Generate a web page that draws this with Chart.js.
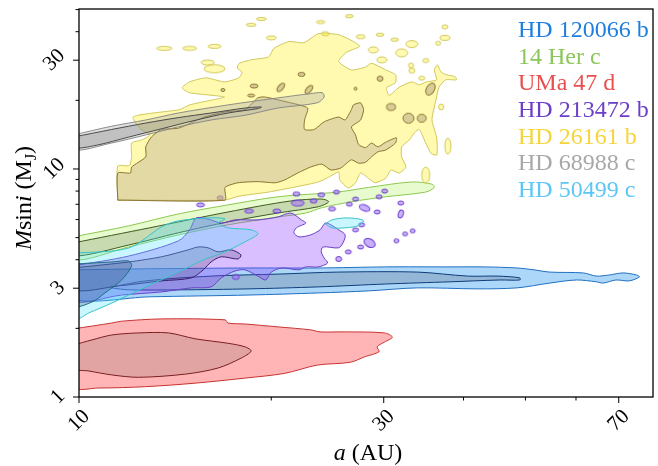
<!DOCTYPE html>
<html lang="en">
<head>
<meta charset="UTF-8">
<title>Msini vs a</title>
<script src="https://cdn.jsdelivr.net/npm/chart.js@4.4.1/dist/chart.umd.min.js"></script>
<style>
    body { margin: 0; background: #fff; }
    canvas { display: block; }
</style>
</head>
<body>
<canvas id="chart" width="658" height="466"></canvas>
<script>
// ---- data: contour outlines as [a (AU), Msini (MJ)] ----
const names = ['HD 120066 b', '14 Her c', 'UMa 47 d', 'HD 213472 b', 'HD 26161 b', 'HD 68988 c', 'HD 50499 c'];

const xMajor = [10, 30, 70];
const xMinor = [20, 40, 50, 60];
const yMajor = [1, 3, 10, 30];
const yMinor = [2, 4, 5, 6, 7, 8, 9, 20, 40, 50];

const blueOuter = [[9.8,3.61],[12.9,3.65],[18.46,3.68],[23.7,3.68],[30.2,3.72],[38.1,3.72],[43.1,3.72],[48.5,3.68],[51.6,3.61],[54.6,3.53],[61.6,3.50],[64.6,3.39],[67.7,3.43],[71.1,3.50],[74.6,3.43],[75.4,3.36],[72.7,3.23],[69.3,3.26],[66.2,3.16],[64.6,3.20],[60.1,3.26],[54.6,3.16],[48.5,3.01],[42.0,2.98],[33.9,3.01],[28.4,2.92],[23.7,2.86],[18.46,2.80],[12.9,2.75],[9.8,2.69]];
const blueInner = [[11.25,3.04],[12.72,3.23],[16.1,3.39],[20.55,3.46],[25.4,3.53],[33.9,3.53],[40.6,3.39],[45.3,3.39],[49.0,3.33],[49.0,3.26],[45.6,3.26],[38.1,3.20],[30.2,3.13],[23.7,3.04],[18.46,2.98],[14.36,2.95],[12.0,2.95],[11.25,3.01]];

const greenOuter = [[9.8,5.04],[11.96,5.63],[14.31,6.35],[17.12,6.96],[20.48,7.55],[25.4,7.92],[28.4,8.30],[33.2,8.77],[35.7,8.58],[36.0,8.30],[34.9,7.92],[30.2,7.55],[26.7,7.18],[23.95,6.75],[22.65,6.41],[20.48,6.16],[17.12,5.69],[14.31,5.14],[11.96,4.55],[9.8,3.99]];
const greenInner = [[9.8,4.74],[12.9,5.52],[17.12,6.48],[21.45,7.24],[24.0,7.38],[24.6,7.18],[23.7,6.83],[20.48,6.41],[17.12,5.86],[14.31,5.25],[11.96,4.64],[9.8,4.15]];

const redOuter = [[9.8,1.99],[11.25,2.11],[11.66,2.15],[13.46,2.20],[16.93,2.18],[17.12,2.11],[18.19,2.09],[20.5,2.03],[23.05,1.97],[23.85,1.93],[26.0,1.93],[30.07,1.91],[30.95,1.83],[30.07,1.74],[29.3,1.66],[29.5,1.58],[28.0,1.50],[26.6,1.42],[23.6,1.38],[21.0,1.27],[18.19,1.21],[15.2,1.15],[12.72,1.11],[10.74,1.095],[9.8,1.11]];
const redInner = [[9.8,1.69],[10.48,1.78],[11.25,1.87],[12.4,1.91],[13.81,1.91],[15.2,1.80],[17.12,1.72],[18.19,1.66],[18.6,1.59],[17.93,1.48],[16.51,1.34],[14.68,1.26],[12.4,1.22],[11.25,1.25],[10.37,1.30],[9.8,1.34]];

const purpleOuter = [[9.8,3.76],[11.96,4.15],[14.31,4.84],[14.9,5.41],[15.27,6.10],[16.1,5.98],[16.7,5.79],[17.55,5.98],[19.06,5.98],[20.48,6.16],[21.45,6.41],[22.3,5.98],[22.65,5.79],[21.9,5.52],[21.7,5.25],[22.1,5.04],[23.05,5.14],[23.85,5.41],[24.3,5.79],[24.8,5.69],[25.5,5.41],[26.1,5.14],[25.9,4.74],[25.5,4.51],[24.1,4.55],[23.95,4.33],[24.2,4.07],[24.5,3.87],[23.7,3.72],[22.65,3.72],[22.1,3.61],[20.8,3.68],[20.0,3.53],[19.6,3.26],[19.06,3.39],[18.19,3.61],[17.55,3.57],[16.7,3.33],[16.1,3.04],[15.0,3.01],[13.46,2.89],[11.66,2.80],[9.8,2.64]];
const purpleInner = [[9.8,3.68],[11.96,3.91],[13.46,4.12],[14.83,4.42],[15.37,4.55],[15.93,4.51],[16.51,4.33],[17.3,4.42],[17.93,4.20],[17.74,4.03],[16.7,4.12],[16.1,3.91],[15.65,3.61],[15.0,3.33],[13.46,3.23],[11.54,3.07],[9.8,2.95]];
const purpleDots = [[15.5,6.96],[16.63,7.47],[18.46,6.54],[20.4,6.54],[21.9,7.77],[22.0,7.09],[23.3,7.24],[23.95,7.70],[24.9,6.68],[25.3,7.92],[26.5,7.01],[27.1,7.38],[28.0,6.75],[29.3,6.48],[29.5,7.55],[30.1,8.0],[31.9,7.09],[31.9,6.35],[27.1,5.41],[27.7,5.69],[33.3,5.35],[32.4,5.19],[31.4,4.84],[28.5,4.74],[27.6,4.55],[26.4,4.33],[25.5,4.03],[17.6,3.36]];

const yellowOuter = [[11.5,7.3],[11.5,10.3],[11.99,10.35],[12.09,11.3],[12.09,13.0],[12.53,13.4],[12.9,14.1],[12.45,15.1],[12.14,16.8],[12.36,17.2],[13.06,17.6],[14.36,18.2],[14.9,19.1],[16.2,20.1],[16.9,20.7],[14.9,21.6],[14.5,22.7],[14.9,24.1],[15.8,25.1],[16.9,24.1],[17.8,25.1],[18.0,26.6],[17.7,27.7],[17.8,29.0],[18.6,30.1],[19.8,31.0],[20.2,33.8],[21.3,36.2],[22.5,35.8],[23.7,39.2],[25.5,38.8],[26.9,36.2],[27.5,34.5],[26.2,32.4],[25.5,29.6],[26.7,27.2],[28.1,28.0],[28.7,29.1],[30.2,27.2],[31.3,25.9],[31.3,23.9],[30.3,22.7],[30.6,21.0],[31.7,22.8],[33.2,24.1],[34.1,23.4],[35.0,24.1],[36.3,24.6],[36.0,27.2],[36.4,28.6],[36.9,26.6],[37.6,25.9],[38.8,25.4],[39.0,24.6],[37.5,24.6],[36.6,22.8],[36.3,20.7],[36.0,18.7],[35.7,16.4],[36.3,13.8],[36.4,12.4],[36.3,11.5],[35.6,11.7],[34.9,13.0],[34.1,14.9],[33.5,14.4],[32.9,13.4],[32.0,12.5],[32.0,11.3],[32.5,10.2],[31.7,9.6],[30.8,9.9],[30.2,9.1],[29.1,8.7],[28.4,9.1],[27.6,9.6],[27.1,8.7],[26.4,8.25],[25.6,8.96],[25.5,9.7],[24.6,9.2],[23.7,8.77],[22.1,8.4],[19.8,7.92],[17.8,7.6],[16.9,7.3]];
const yellowInner = [[11.5,7.3],[11.5,9.6],[12.04,9.6],[12.09,10.2],[12.72,11.3],[12.72,12.5],[12.98,13.8],[13.46,14.9],[14.31,15.1],[15.65,16.8],[16.93,17.8],[18.19,18.2],[19.06,20.5],[19.5,20.7],[21.45,19.5],[22.8,18.5],[22.55,16.4],[22.55,14.9],[23.35,14.9],[24.2,16.1],[25.5,16.9],[26.1,16.4],[26.7,18.2],[26.9,19.1],[27.6,19.5],[27.9,18.2],[27.6,16.4],[26.7,15.3],[27.1,14.1],[27.4,12.8],[28.1,12.4],[28.7,13.0],[29.4,12.5],[30.2,13.1],[31.4,13.7],[31.3,13.0],[30.2,12.1],[29.4,11.9],[28.7,11.3],[28.1,10.7],[27.4,10.6],[26.7,10.97],[25.7,10.1],[24.8,9.9],[24.0,10.5],[23.05,10.2],[22.0,9.6],[21.0,8.96],[20.3,8.7],[19.06,8.8],[17.74,8.7],[16.93,8.3],[16.93,7.3]];
const yellowIslands = [[13.6,33.8],[14.9,33.8],[16.3,34.5],[15.9,29.3],[16.3,27.5],[18.6,42.9],[19.3,45.5],[20.0,37.6],[23.9,44.1],[24.3,39.2],[26.5,46.8],[27.6,38.0],[29.6,38.8],[31.2,36.9],[33.2,35.3],[37.4,42.0],[37.4,37.6],[36.5,35.6],[28.9,33.3],[32.0,32.3],[29.8,30.1],[34.9,29.9],[33.1,28.4],[33.2,27.0],[34.4,25.0],[36.9,18.7],[37.8,12.6],[34.9,9.4]];
const tanIslands = [[16.8,22.2],[18.8,23.1],[18.6,21.0],[20.7,22.8],[22.9,22.3],[22.3,26.0],[27.1,22.5],[29.6,24.9],[30.8,18.7],[32.8,16.7],[34.4,16.7],[35.5,22.4]];

const grayOuter = [[9.8,14.1],[11.25,15.4],[12.72,16.4],[14.31,17.6],[17.12,19.1],[20.48,20.5],[23.05,21.4],[24.05,21.6],[24.2,20.7],[23.6,19.5],[20.48,18.5],[18.19,17.2],[16.1,16.4],[14.31,15.3],[12.72,14.1],[11.25,13.0],[9.8,12.1]];
const grayInner = [[9.8,13.8],[11.25,14.9],[12.72,15.9],[14.31,16.8],[16.1,17.6],[18.19,18.5],[19.3,18.7],[19.06,18.4],[17.12,17.6],[15.27,16.4],[13.46,15.0],[11.96,13.8],[10.64,12.7],[9.8,12.4]];

const cyanOuter = [[9.8,4.27],[11.96,4.50],[13.46,5.57],[14.31,5.92],[16.1,6.11],[16.93,6.04],[16.51,5.79],[17.12,5.52],[18.6,5.41],[19.06,5.19],[18.19,4.79],[16.93,4.33],[15.65,3.99],[14.31,3.53],[12.72,3.04],[11.25,2.58],[10.37,2.34],[9.8,2.18]];
const cyanIsland = [[24.3,5.75],[24.9,5.98],[26.1,6.10],[27.4,6.04],[27.9,5.92],[27.4,5.64],[26.1,5.52],[24.9,5.52]];
const cyanInner = [[9.8,3.83],[11.25,3.91],[11.96,3.95],[12.09,3.76],[11.66,3.26],[10.98,2.86],[10.48,2.61],[9.8,2.51]];

// ---- styles ----
const nameColors = ['#1f7fe0', '#8cc65a', '#e8504f', '#6b3fc9', '#f5d43c', '#a8a8a8', '#5cc6f6'];
const serif = '"Liberation Serif", "DejaVu Serif", serif';

// island sizes in pixels: [w, h, rotation]
const purpleDotShape = [[8,4,0],[6,4,0],[9,4,0],[8,4,0],[7,4,0],[13,6,0],[7,4,0],[7,4,0],[7,4,0],[6,4,0],[6,4,0],[6,4,0],[11,6,20],[6,4,0],[6,4,0],[6,4,0],[6,4,0],[5,8,20],[6,4,0],[6,4,0],[5,4,0],[5,4,0],[5,4,0],[12,8,30],[6,4,0],[6,4,0],[6,5,0],[7,5,0]];
const yellowIslandShape = [[15,4,0],[14,4,0],[13,4,0],[13,5,0],[21,8,0],[10,3,0],[10,3,0],[10,4,0],[9,3,0],[8,4,0],[8,3,0],[9,4,0],[8,3,0],[8,3,0],[12,7,0],[6,4,0],[10,5,0],[5,4,0],[10,6,0],[12,8,0],[10,6,0],[6,4,0],[5,5,0],[6,5,0],[6,4,0],[5,6,0],[6,16,0],[8,16,0]];
const tanIslandShape = [[4,3,0],[8,4,0],[7,3,0],[5,10,40],[5,10,40],[7,4,0],[3,3,0],[6,5,0],[9,7,0],[11,10,0],[9,8,0],[8,13,30]];

function ellipseImg(w, h, rot, fill, stroke) {
    const s = Math.ceil(Math.max(w, h)) + 4;
    const c = document.createElement('canvas');
    c.width = s; c.height = s;
    const g = c.getContext('2d');
    g.translate(s / 2, s / 2);
    g.rotate(rot * Math.PI / 180);
    g.beginPath();
    g.ellipse(0, 0, w / 2, h / 2, 0, 0, Math.PI * 2);
    g.fillStyle = fill; g.fill();
    g.lineWidth = 1; g.strokeStyle = stroke; g.stroke();
    return c;
}

function shape(pts, fill, stroke, tension) {
    const data = pts.map(p => ({x: p[0], y: p[1]}));
    data.push({x: pts[0][0], y: pts[0][1]});
    return {
        data: data, showLine: true, fill: 'shape',
        backgroundColor: fill, borderColor: stroke, borderWidth: 1,
        pointRadius: 0, tension: tension === undefined ? 0.3 : tension
    };
}

function islands(pts, dims, fill, stroke) {
    return {
        data: pts.map(p => ({x: p[0], y: p[1]})),
        showLine: false, pointRadius: 3,
        pointStyle: dims.map(d => ellipseImg(d[0], d[1], d[2], fill, stroke))
    };
}

// bottom first
const layers = [
    shape(blueOuter, 'rgba(40,150,240,0.38)', '#1f6fc0'),
    shape(blueInner, 'rgba(90,100,130,0.28)', '#0d3d7a'),
    shape(greenOuter, 'rgba(170,240,80,0.28)', '#8cc850'),
    shape(greenInner, 'rgba(90,100,70,0.22)', '#3d5a1f'),
    shape(redOuter, 'rgba(255,60,60,0.38)', '#c83232'),
    shape(redInner, 'rgba(110,90,90,0.2)', '#7a1f1f'),
    shape(purpleOuter, 'rgba(140,60,255,0.33)', '#6a3fc8'),
    shape(purpleInner, 'rgba(60,40,90,0.22)', '#3a2070'),
    islands(purpleDots, purpleDotShape, 'rgba(160,110,255,0.55)', '#6a3fc8'),
    shape(yellowOuter, 'rgba(255,245,80,0.45)', '#cfc75a', 0.2),
    islands(yellowIslands, yellowIslandShape, 'rgba(255,245,80,0.45)', '#cfc75a'),
    shape(yellowInner, 'rgba(140,120,130,0.25)', '#8a7330', 0.2),
    islands(tanIslands, tanIslandShape, 'rgba(200,185,140,0.7)', '#8a7330'),
    shape(grayOuter, 'rgba(170,170,170,0.35)', 'rgba(130,130,130,0.9)'),
    shape(grayInner, 'rgba(120,120,120,0.3)', '#4a4a4a'),
    shape(cyanOuter, 'rgba(80,230,255,0.3)', '#35c4c4'),
    shape(cyanIsland, 'rgba(80,230,255,0.3)', '#35c4c4'),
    shape(cyanInner, 'rgba(30,60,110,0.25)', '#1e6e80')
];
layers.forEach((d, i) => { d.order = layers.length - i; d.clip = 0; });

// frame, ticks, labels, titles and the text legend
const overlay = {
    id: 'overlay',
    afterDraw(chart) {
        const ctx = chart.ctx, ca = chart.chartArea;
        const xs = chart.scales.x, ys = chart.scales.y;
        ctx.save();
        ctx.strokeStyle = '#000';
        ctx.lineWidth = 1.3;
        ctx.strokeRect(ca.left, ca.top, ca.right - ca.left, ca.bottom - ca.top);

        ctx.lineWidth = 1;
        ctx.beginPath();
        xMajor.concat(xMinor).forEach(v => {
            const p = xs.getPixelForValue(v);
            const len = xMajor.includes(v) ? 6 : 3.5;
            ctx.moveTo(p, ca.bottom); ctx.lineTo(p, ca.bottom + len);
        });
        yMajor.concat(yMinor).forEach(v => {
            const p = ys.getPixelForValue(v);
            const len = yMajor.includes(v) ? 6 : 3.5;
            ctx.moveTo(ca.left, p); ctx.lineTo(ca.left - len, p);
        });
        ctx.stroke();

        ctx.fillStyle = '#000';
        ctx.font = '21px ' + serif;
        ctx.textAlign = 'center';
        ctx.textBaseline = 'middle';
        const h = 15;
        xMajor.forEach(v => {
            const t = String(v);
            const w = ctx.measureText(t).width;
            const off = (w + h) / (2 * Math.SQRT2);
            ctx.save();
            ctx.translate(xs.getPixelForValue(v), ca.bottom + 11 + off);
            ctx.rotate(-Math.PI / 4);
            ctx.fillText(t, 0, 0);
            ctx.restore();
        });
        yMajor.forEach(v => {
            const t = String(v);
            const w = ctx.measureText(t).width;
            const off = (w + h) / (2 * Math.SQRT2);
            ctx.save();
            ctx.translate(ca.left - 12 - off, ys.getPixelForValue(v));
            ctx.rotate(-Math.PI / 4);
            ctx.fillText(t, 0, 0);
            ctx.restore();
        });

        // axis titles
        const big = '24px ' + serif, ital = 'italic 24px ' + serif, sub = '16px ' + serif;
        function runs(parts) {
            let w = 0;
            parts.forEach(p => { ctx.font = p[1]; w += ctx.measureText(p[0]).width; });
            return w;
        }
        function drawRuns(parts, x, y) {
            ctx.textAlign = 'left';
            ctx.textBaseline = 'alphabetic';
            parts.forEach(p => {
                ctx.font = p[1];
                ctx.fillText(p[0], x, y + (p[2] || 0));
                x += ctx.measureText(p[0]).width;
            });
        }
        const xt = [['a', ital], [' (AU)', big]];
        drawRuns(xt, (ca.left + ca.right) / 2 - runs(xt) / 2 + 2, 460);
        const yt = [['M', ital], ['sin', big], ['i', ital], [' (M', big], ['J', sub, 5], [')', big]];
        ctx.save();
        ctx.translate(31, 198);
        ctx.rotate(-Math.PI / 2);
        drawRuns(yt, -runs(yt) / 2, 0);
        ctx.restore();

        // legend text
        ctx.font = '24px ' + serif;
        ctx.textAlign = 'left';
        ctx.textBaseline = 'alphabetic';
        names.forEach((n, i) => {
            ctx.fillStyle = nameColors[i];
            ctx.fillText(n, 518, 37 + i * 26.67);
        });
        ctx.restore();
    }
};

new Chart(document.getElementById('chart'), {
    type: 'scatter',
    data: { datasets: layers },
    options: {
        responsive: false,
        devicePixelRatio: 1,
        animation: false,
        events: [],
        layout: { padding: { left: 0, right: 1, top: 9, bottom: 0 } },
        plugins: { legend: { display: false }, tooltip: { enabled: false } },
        scales: {
            x: {
                type: 'logarithmic', min: 10, max: 79.2,
                ticks: { display: false }, grid: { display: false }, border: { display: false },
                afterFit: s => { s.height = 69; }
            },
            y: {
                type: 'logarithmic', min: 1, max: 50.3,
                ticks: { display: false }, grid: { display: false }, border: { display: false },
                afterFit: s => { s.width = 79; }
            }
        }
    },
    plugins: [overlay]
});
</script>
</body>
</html>
